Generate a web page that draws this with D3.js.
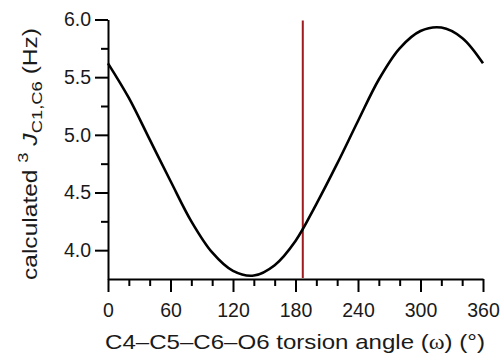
<!DOCTYPE html>
<html>
<head>
<meta charset="utf-8">
<script src="https://cdn.jsdelivr.net/npm/d3@7"></script>
<style>
  html, body { margin: 0; padding: 0; background: #fff; }
  svg { display: block; font-family: "Liberation Sans", Arial, sans-serif; }
</style>
</head>
<body>
<svg id="chart" width="503" height="362"></svg>
<script>
// Calculated 3J(C1,C6) as a function of the C4–C5–C6–O6 torsion angle
const angles = [0, 20, 40, 60, 80, 100, 120, 140, 160, 180, 200, 220, 240, 260, 280, 300, 320, 340, 360];
const couplings = [5.62, 5.32, 4.96, 4.60, 4.25, 3.98, 3.82, 3.78, 3.87, 4.08, 4.40, 4.75, 5.12, 5.48, 5.75, 5.90, 5.93, 5.84, 5.62];
const markerAngle = [187];

const xMajorTicks = [0, 60, 120, 180, 240, 300, 360];
const xMinorTicks = [20, 40, 80, 100, 140, 160, 200, 220, 260, 280, 320, 340];
const yMajorTicks = [4.0, 4.5, 5.0, 5.5, 6.0];
const yMinorTicks = [4.25, 4.75, 5.25, 5.75];

const svg = d3.select("#chart");
const plotLeft = 108, plotRight = 483, plotTop = 19.5, plotBottom = 279;

const x = d3.scaleLinear().domain([0, 360]).range([plotLeft, plotRight]);
const y = d3.scaleLinear().domain([3.75, 6.0]).range([plotBottom, plotTop]);

// minor ticks first so the main axis line sits on top
svg.append("g")
  .attr("transform", `translate(0,${plotBottom})`)
  .call(d3.axisBottom(x).tickValues(xMinorTicks).tickSize(7).tickSizeOuter(0).tickFormat(""))
  .call(g => g.select(".domain").remove())
  .call(g => g.selectAll("line").attr("stroke", "#000").attr("stroke-width", 2));

svg.append("g")
  .attr("transform", `translate(${plotLeft},0)`)
  .call(d3.axisLeft(y).tickValues(yMinorTicks).tickSize(7).tickSizeOuter(0).tickFormat(""))
  .call(g => g.select(".domain").remove())
  .call(g => g.selectAll("line").attr("stroke", "#000").attr("stroke-width", 2));

const xAxis = svg.append("g")
  .attr("transform", `translate(0,${plotBottom})`)
  .call(d3.axisBottom(x).tickValues(xMajorTicks).tickSize(13).tickSizeOuter(0).tickPadding(11).tickFormat(d3.format("d")));

const yAxis = svg.append("g")
  .attr("transform", `translate(${plotLeft},0)`)
  .call(d3.axisLeft(y).tickValues(yMajorTicks).tickSize(13).tickSizeOuter(0).tickPadding(4).tickFormat(d3.format(".1f")));

[xAxis, yAxis].forEach(g => {
  g.select(".domain").attr("stroke", "#000").attr("stroke-width", 2);
  g.selectAll(".tick line").attr("stroke", "#000").attr("stroke-width", 2);
  g.selectAll(".tick text")
    .attr("fill", "#1a1a1a")
    .style("font-family", "'Liberation Sans', Arial, sans-serif")
    .style("font-size", "19.5px");
});

// reference torsion angle
svg.append("line")
  .attr("x1", x(markerAngle[0])).attr("x2", x(markerAngle[0]))
  .attr("y1", y(6.0) + 1).attr("y2", plotBottom - 1)
  .attr("stroke", "#9e1b1f").attr("stroke-width", 2);

// coupling curve
const line = d3.line()
  .x((d, i) => x(angles[i]))
  .y(d => y(d))
  .curve(d3.curveCatmullRom.alpha(0.5));

svg.append("path")
  .datum(couplings)
  .attr("d", line)
  .attr("fill", "none")
  .attr("stroke", "#000")
  .attr("stroke-width", 2.6);

// x-axis title
const xt = svg.append("text")
  .attr("x", 295).attr("y", 349)
  .attr("text-anchor", "middle")
  .attr("textLength", 380)
  .attr("lengthAdjust", "spacingAndGlyphs")
  .attr("fill", "#1a1a1a")
  .style("font-size", "21px");
xt.append("tspan").text("C4–C5–C6–O6 torsion angle (");
xt.append("tspan").style("font-family", "'Liberation Serif', 'Times New Roman', serif").text("ω");
xt.append("tspan").text(") (°)");

// y-axis title
const yt = svg.append("text")
  .attr("transform", `translate(37,${154}) rotate(-90)`)
  .attr("text-anchor", "middle")
  .attr("textLength", 252)
  .attr("lengthAdjust", "spacingAndGlyphs")
  .attr("fill", "#1a1a1a")
  .style("font-size", "20px");
yt.append("tspan").text("calculated ");
yt.append("tspan").attr("dy", -9).style("font-size", "15px").text("3");
yt.append("tspan").attr("dy", 9).style("font-style", "italic").text(" J");
yt.append("tspan").attr("dy", 5).style("font-size", "15px").text("C1,C6");
yt.append("tspan").attr("dy", -5).text(" (Hz)");
</script>
</body>
</html>
